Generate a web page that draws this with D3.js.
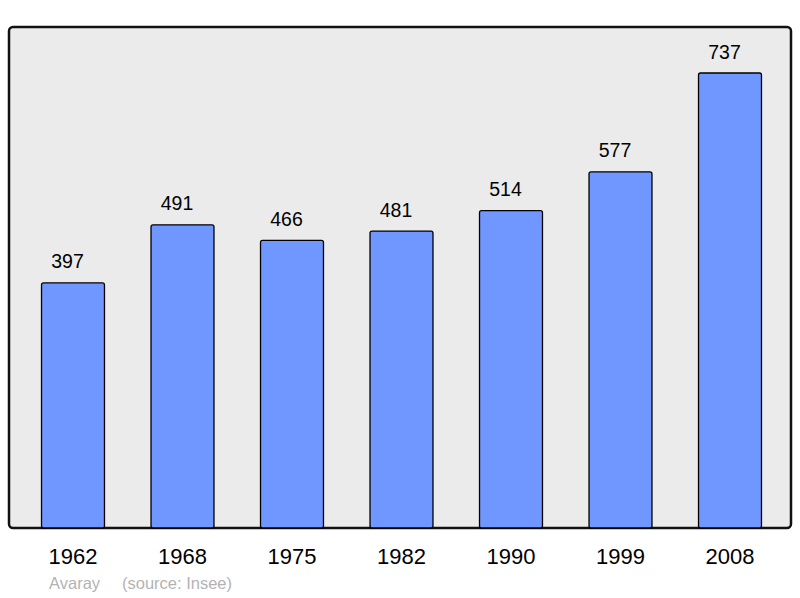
<!DOCTYPE html>
<html><head><meta charset="utf-8">
<script src="https://cdn.jsdelivr.net/npm/d3@7"></script>
<style>body{margin:0;background:#fff}svg{display:block;font-family:"Liberation Sans",Arial,sans-serif}</style>
</head><body>
<svg id="c" width="800" height="598"></svg>
<script>
const years = ["1962","1968","1975","1982","1990","1999","2008"];
const population = [397,491,466,481,514,577,737];
const placeName = "Avaray";
const sourceText = "(source: Insee)";

const svg = d3.select("#c");
const frame = {x:9, y:27, w:782, h:501};
const baseY = frame.y + frame.h;

svg.append("rect").attr("x",frame.x).attr("y",frame.y).attr("width",frame.w).attr("height",frame.h)
  .attr("rx",4).attr("fill","#ebebeb").attr("stroke","#111").attr("stroke-width",2.5);

const x = d3.scaleBand().domain(years).range([18.25,784.75]).paddingInner(0.425).paddingOuter(0.2125);
const y = d3.scaleLinear().domain([0,737]).range([baseY,73]);

const g = svg.append("g");
g.selectAll("rect.bar").data(population).join("rect").attr("class","bar")
  .attr("x",(d,i)=>x(years[i])).attr("y",d=>y(d))
  .attr("width",x.bandwidth()).attr("height",d=>baseY-y(d))
  .attr("rx",2).attr("fill","#7097ff").attr("stroke","#000").attr("stroke-width",1.3);

g.selectAll("text.val").data(population).join("text").attr("class","val")
  .attr("x",(d,i)=>x(years[i])+x.bandwidth()/2-5.5).attr("y",d=>y(d)-14.5)
  .attr("text-anchor","middle").attr("font-size",19.5).attr("fill","#000").text(d=>d);

const xAxis = d3.axisBottom(x).tickSize(0).tickPadding(0);
const ax = svg.append("g").attr("transform",`translate(0,${baseY})`).call(xAxis);
ax.select(".domain").remove();
ax.selectAll("text").attr("font-size",22).attr("fill","#000").attr("dy",null).attr("y",36)
  .attr("font-family","Liberation Sans, Arial, sans-serif");

svg.append("text").attr("x",49).attr("y",589).attr("font-size",16.5).attr("fill","#b3b3b3").text(placeName);
svg.append("text").attr("x",122).attr("y",589).attr("font-size",16.5).attr("fill","#b3b3b3").text(sourceText);
</script>
</body></html>
